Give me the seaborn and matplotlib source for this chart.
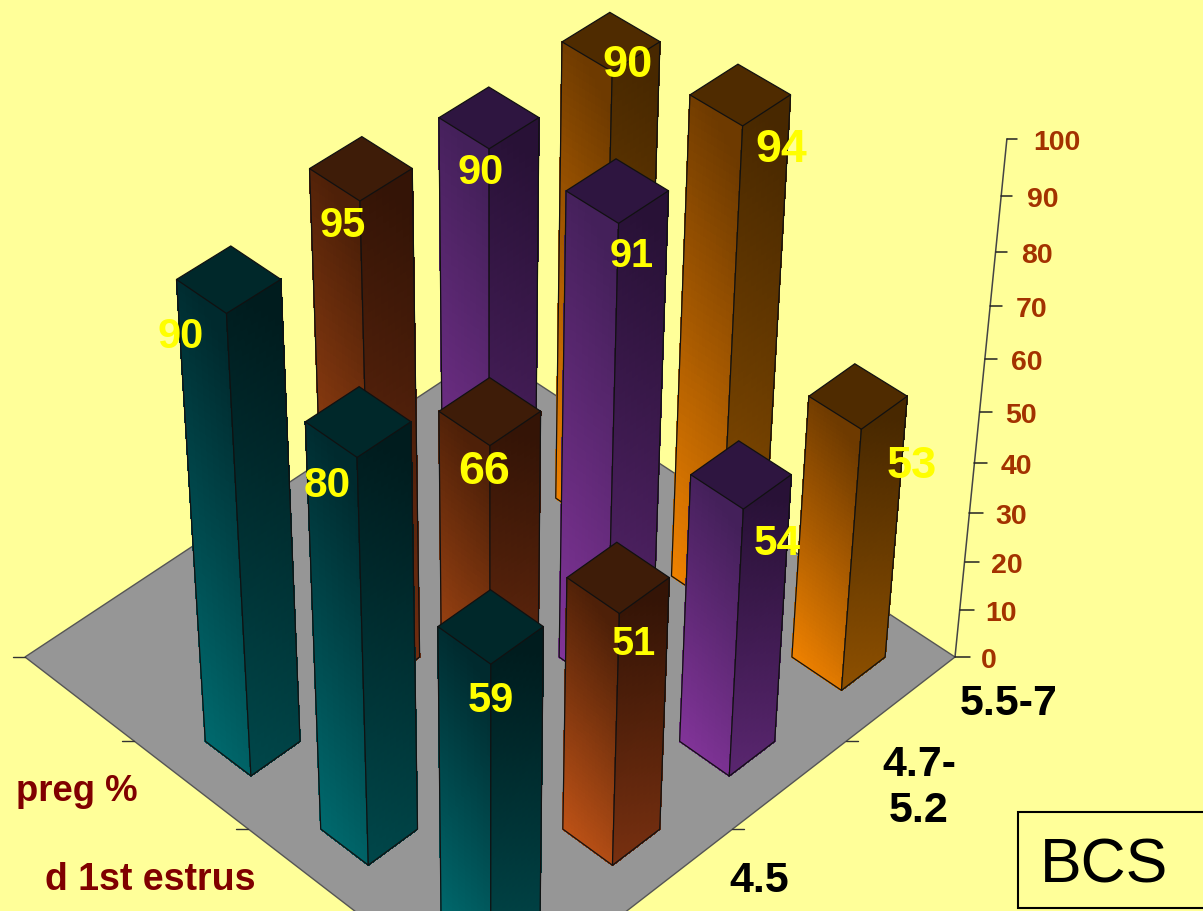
import numpy as np
import matplotlib
matplotlib.use("Agg")
import matplotlib.pyplot as plt
from matplotlib.collections import PolyCollection
from matplotlib.patches import Polygon, Rectangle
import seaborn as sns

# Pregnancy data by body condition score; each series is one row of the 3-D bars
rate_labels = ["preg %", "d 1st estrus"]
score_labels = ["5.5-7", "4.7-\n5.2", "4.5"]
teal_values = [90, 80, 59]
brown_values = [95, 66, 51]
purple_values = [90, 91, 54]
orange_values = [90, 94, 53]
z_ticks = list(range(0, 101, 10))

# Value label centres on the canvas and their font sizes, in the order of each series
teal_text = [(181, 333, 30), (327, 482, 30.5), (491, 697, 30)]
brown_text = [(343, 222, 30), (484, 467, 33.5), (634, 640, 28.5)]
purple_text = [(481, 169, 30), (632, 252, 28.5), (777, 540, 30.5)]
orange_text = [(627, 61, 32.5), (781, 145, 33.5), (912, 462, 32.5)]

# Face shades: (left bright, left dark, right bright, right dark, lid)
teal_shades = ("#006A6E", "#002A2E", "#00474A", "#001C1E", "#00282A")
brown_shades = ("#BE5216", "#4E2008", "#783010", "#341406", "#3E1C08")
purple_shades = ("#823499", "#44205A", "#5A2670", "#281136", "#2E1540")
orange_shades = ("#F08200", "#6E3A00", "#8E5000", "#482800", "#4F2B00")

BACKGROUND = "#FFFF99"
FLOOR = "#969696"
AXIS_TEXT = "#A33200"
SERIES_TEXT = "#800000"
BAR_HALF_WIDTH = 0.2

sns.set_theme(style="white")
plt.rcParams["font.family"] = ["Liberation Sans", "DejaVu Sans"]

fig = plt.figure(figsize=(12.03, 9.12), dpi=100, facecolor=BACKGROUND)
ax = fig.add_axes([0, 0, 1, 1])
ax.set_xlim(0, 1203)
ax.set_ylim(912, 0)
ax.axis("off")


def build_camera():
    """Perspective camera: floor grid 0..4 by 0..4 plus a vertical vanishing point."""
    src = [(0, 0), (4, 0), (0, 4), (4, 4)]
    dst = [(25, 658), (491, 1017), (488, 352), (955, 658)]
    rows, rhs = [], []
    for (a, b), (x, y) in zip(src, dst):
        rows.append([a, b, 1, 0, 0, 0, -a * x, -b * x])
        rows.append([0, 0, 0, a, b, 1, -a * y, -b * y])
        rhs += [x, y]
    h = np.linalg.solve(np.array(rows, float), np.array(rhs, float))
    floor = np.array([[h[0], h[1], h[2]], [h[3], h[4], h[5]], [h[6], h[7], 1.0]])
    vanish = np.array([490.0, 5300.0, 1.0])
    corner = floor @ np.array([4.0, 4.0, 1.0])
    ratio = (140 - 658) / (5300 - 140)
    column = vanish * ratio * corner[2] / 100
    return floor, column


FLOOR_H, Z_COLUMN = build_camera()


def project(a, b, z=0.0):
    p = FLOOR_H @ np.array([a, b, 1.0]) + Z_COLUMN * z
    return p[0] / p[2], p[1] / p[2]


def shaded_face(start, end, height, bright, dark, order):
    """Vertical face split into cells, brightest at the lower left, darkest at the upper right."""
    ramp = sns.blend_palette([bright, dark], n_colors=128)
    nz, nu = 60, 16
    cells, colours = [], []
    for i in range(nz):
        z0, z1 = height * i / nz, height * (i + 1) / nz
        for j in range(nu):
            u0, u1 = j / nu, (j + 1) / nu
            a0 = start[0] + (end[0] - start[0]) * u0
            b0 = start[1] + (end[1] - start[1]) * u0
            a1 = start[0] + (end[0] - start[0]) * u1
            b1 = start[1] + (end[1] - start[1]) * u1
            cells.append([project(a0, b0, z0), project(a1, b1, z0),
                          project(a1, b1, z1), project(a0, b0, z1)])
            shade = 0.95 * (i + 0.5) / nz + 0.12 * (j + 0.5) / nu
            colours.append(ramp[min(127, int(shade * 128))])
    ax.add_collection(PolyCollection(cells, facecolors=colours, edgecolors=colours,
                                     linewidths=0.6, antialiaseds=False, zorder=order))


def draw_bar(a, b, height, shades, order):
    w = BAR_HALF_WIDTH
    left = (a - w, b - w)
    front = (a + w, b - w)
    right = (a + w, b + w)
    back = (a - w, b + w)
    shaded_face(left, front, height, shades[0], shades[1], order)
    shaded_face(front, right, height, shades[2], shades[3], order)
    lid = [project(*c, height) for c in (left, front, right, back)]
    ax.add_patch(Polygon(lid, closed=True, facecolor=shades[4], edgecolor="#111111",
                         linewidth=0.9, zorder=order + 0.1))
    outline = [project(*left, height), project(*left), project(*front), project(*right),
               project(*right, height)]
    ax.plot(*zip(*outline), color="#111111", lw=0.9, zorder=order + 0.1)
    spine = [project(*front), project(*front, height)]
    ax.plot(*zip(*spine), color="#111111", lw=0.9, zorder=order + 0.1)


# Floor and its edge ticks
floor_poly = [project(0, 0), project(4, 0), project(4, 4), project(0, 4)]
ax.add_patch(Polygon(floor_poly, closed=True, facecolor=FLOOR, edgecolor="#555555",
                     linewidth=1.0, zorder=1))
for i in range(3):
    x, y = project(i, 0)
    ax.plot([x - 12, x], [y, y], color="#333333", lw=1.0, zorder=1)
    x, y = project(4, 4 - i)
    if i:
        ax.plot([x, x + 12], [y, y], color="#333333", lw=1.0, zorder=1)

# Value axis standing on the right corner
axis_line = [project(4, 4, 0), project(4, 4, 100)]
ax.plot(*zip(*axis_line), color="#444444", lw=1.1, zorder=1)
for tick, label in zip(z_ticks, [str(t) for t in z_ticks]):
    x, y = project(4, 4, tick)
    length = 15 - 5 * tick / 100
    ax.plot([x, x + length], [y, y], color="#222222", lw=1.1, zorder=1)
    ax.text(x + 26, y, label, color=AXIS_TEXT, fontsize=20.5, fontweight="bold",
            ha="left", va="center_baseline", zorder=1)

# Bars, painted from the back corner forward
series = [
    (teal_values, teal_shades, 0.5, teal_text),
    (brown_values, brown_shades, 1.5, brown_text),
    (purple_values, purple_shades, 2.5, purple_text),
    (orange_values, orange_shades, 3.5, orange_text),
]
for values, shades, b, texts in series:
    for row, value in enumerate(values):
        a = row + 1.5
        draw_bar(a, b, value, shades, order=2 + (a + 4 - b))
for values, shades, b, texts in series:
    for value, (x, y, size) in zip(values, texts):
        ax.text(x, y, str(value), color="#FFFF00", fontsize=size, fontweight="bold",
                ha="center", va="center_baseline", zorder=30)

# Category captions beside the floor
for text, (x, y) in zip(score_labels, [(1009, 704), (919, 788), (759, 881)]):
    ax.text(x, y, text, color="black", fontsize=31, fontweight="bold", ha="center",
            va="center", linespacing=1.2, zorder=30)
for text, (x, y, size) in zip(rate_labels, [(77, 792, 26.3), (150, 880, 27)]):
    ax.text(x, y, text, color=SERIES_TEXT, fontsize=size, fontweight="bold", ha="center",
            va="center", zorder=30)

# Score legend box
ax.add_patch(Rectangle((1018, 813), 190, 96, facecolor=BACKGROUND, edgecolor="black",
                       linewidth=1.5, zorder=30, clip_on=True))
ax.text(1104, 866, "BCS", color="black", fontsize=45, ha="center", va="center", zorder=31)

fig.savefig("out.png", dpi=100, facecolor=BACKGROUND)
